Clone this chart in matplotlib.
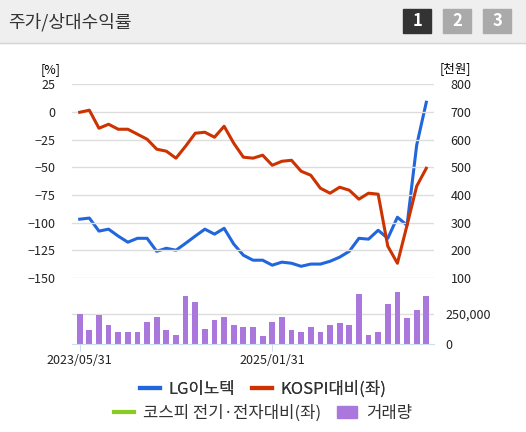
import matplotlib
matplotlib.use("Agg")
import matplotlib.pyplot as plt
import numpy as np
from matplotlib.patches import Rectangle
from matplotlib.lines import Line2D

plt.rcParams['font.family'] = ['Noto Sans CJK KR', 'DejaVu Sans']

lg_price = [313,317,270,277,252,230,244,244,197,208,201,226,252,277,259,280,223,183,165,165,
            147,158,154,143,151,151,161,176,197,244,241,273,244,320,291,580,735]
kospi_rel = [-0.3,1.6,-14.7,-11.1,-15.6,-15.6,-20.1,-24.6,-33.6,-35.4,-41.7,-30.9,-19.2,-18.3,-22.8,
             -12.9,-28.2,-40.8,-41.7,-39.0,-48.1,-44.5,-43.6,-53.5,-57.1,-68.8,-73.3,-67.9,-70.6,-78.7,
             -73.3,-74.2,-121.1,-136.5,-102.2,-67.0,-50.8]
volume = [253,118,239,157,104,104,104,185,225,118,79,402,348,129,197,225,157,143,143,65,
          185,225,118,104,143,104,157,171,157,416,79,104,334,430,213,281,402]
volume = [v*1000 for v in volume]
x_labels = {0: '2023/05/31', 20: '2025/01/31'}
left_ticks = [25, 0, -25, -50, -75, -100, -125, -150]
right_ticks = [800, 700, 600, 500, 400, 300, 200, 100]

fig = plt.figure(figsize=(5.26, 4.32), dpi=100)
fig.patches.append(Rectangle((0, 1-43/432), 1, 43/432, transform=fig.transFigure, color='#efefef', zorder=0))
fig.add_artist(Line2D([0,1],[1-43/432]*2, color='#d5d5d5', lw=1))
fig.text(0.015, 1-22/432, '주가/상대수익률', fontsize=13, va='center', color='#333333')
for i, (lab, c) in enumerate(zip(['1','2','3'], ['#333333','#aaaaaa','#aaaaaa'])):
    cx = (417 + i*40)/526
    fig.patches.append(Rectangle((cx-14/526, 1-33/432), 28/526, 24/432, transform=fig.transFigure, color=c, zorder=1))
    fig.text(cx, 1-21/432, lab, color='white', fontsize=12, fontweight='bold', ha='center', va='center')

n = len(lg_price)
x = np.arange(n)
ax = fig.add_axes([72/526, 0.356, 362/526, 0.449])
ax2 = ax.twinx()
ax.plot(x, kospi_rel, color='#cc3300', lw=2.2, zorder=3)
ax2.plot(x, lg_price, color='#2266dd', lw=2.2)
ax.set_ylim(-150, 25); ax2.set_ylim(100, 800)
ax.set_xlim(-0.8, 36.8)
ax.set_yticks(left_ticks); ax2.set_yticks(right_ticks)
ax.set_xticks([])
ax.grid(axis='y', color='#dddddd', lw=1)
for a in (ax, ax2):
    for s in a.spines.values(): s.set_visible(False)
    a.tick_params(length=0, labelsize=9, colors='#222222', pad=12)
ax.set_zorder(ax2.get_zorder()+1); ax.patch.set_visible(False)
ax.text(-0.06, 1.06, '[%]', transform=ax.transAxes, fontsize=9, ha='center')
ax2.text(1.06, 1.06, '[천원]', transform=ax.transAxes, fontsize=9, ha='center')

axv = fig.add_axes([72/526, 1-344/432, 362/526, 60/432])
axv.bar(x, volume, width=0.6, color='#aa77dd')
axv.set_xlim(-0.8, 36.8); axv.set_ylim(0, 500000)
axv.set_yticks([]); axv.yaxis.tick_right()
axv2 = axv.twinx(); axv2.set_ylim(0, 500000); axv2.set_yticks([0, 250000]); axv2.set_yticklabels(['0','250,000'])
axv.axhline(250000, color='#dddddd', lw=1, zorder=0)
axv.set_xticks(list(x_labels.keys())); axv.set_xticklabels(list(x_labels.values()))
for a in (axv, axv2):
    for s in a.spines.values(): s.set_visible(False)
    a.tick_params(length=0, labelsize=9, colors='#222222', pad=8)
axv.spines['bottom'].set_visible(True); axv.spines['bottom'].set_color('#ccddee')
axv.tick_params(axis='x', length=5, color='#ccddee', pad=2)

kw = dict(frameon=False, fontsize=12, handlelength=1.2, columnspacing=1.0, handletextpad=0.5, ncol=2, loc='center',
          labelcolor='#333333')
l1 = fig.legend([Line2D([],[],color='#2266dd',lw=3), Line2D([],[],color='#cc3300',lw=3)],
                ['LG이노텍','KOSPI대비(좌)'], bbox_to_anchor=(0.5, 1-389/432), **kw)
fig.legend([Line2D([],[],color='#88cc22',lw=3), Rectangle((0,0),1,1,color='#aa77dd')],
           ['코스피 전기·전자대비(좌)','거래량'], bbox_to_anchor=(0.5, 1-413/432), **kw)
fig.add_artist(l1)
fig.savefig('out.png', dpi=100)
